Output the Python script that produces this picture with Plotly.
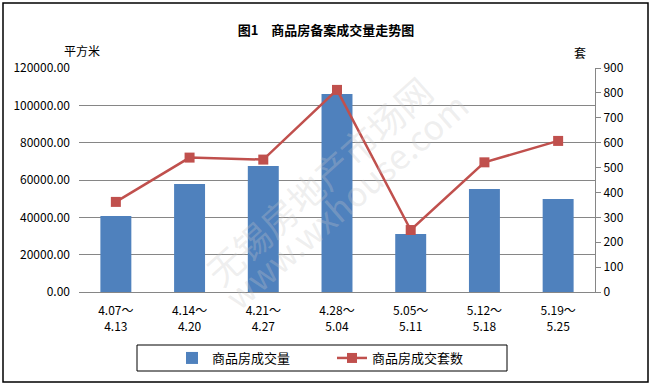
import plotly.graph_objects as go

categories = ["4.07～<br>4.13", "4.14～<br>4.20", "4.21～<br>4.27", "4.28～<br>5.04",
              "5.05～<br>5.11", "5.12～<br>5.18", "5.19～<br>5.25"]
area_values = [40700, 57900, 67500, 106100, 31100, 55200, 49800]
unit_values = [362, 540, 532, 812, 249, 521, 607]

bar_name = "商品房成交量"
line_name = "商品房成交套数"
title_text = "图1　商品房备案成交量走势图"
left_title = "平方米"
right_title = "套"

FONT = "Noto Sans CJK SC, SimSun, sans-serif"
GRID = "#868686"

W, H = 652, 386
L, R, T, B = 79, 57, 68, 94
PW, PH = W - L - R, H - T - B


def px(x):
    return (x - L) / PW


def py(y):
    return (H - B - y) / PH


fig = go.Figure()
fig.add_trace(go.Bar(x=categories, y=area_values, name=bar_name,
                     marker=dict(color="#4F81BD", line=dict(width=0)), yaxis="y"))
fig.add_trace(go.Scatter(x=categories, y=unit_values, name=line_name, mode="lines+markers",
                         line=dict(color="#C0504D", width=2.5),
                         marker=dict(symbol="square", size=10, color="#C0504D"),
                         yaxis="y2"))

fig.update_layout(
    width=W, height=H,
    margin=dict(l=L, r=R, t=T, b=B),
    paper_bgcolor="white", plot_bgcolor="white",
    font=dict(family=FONT, size=12, color="black"),
    bargap=0.58,
    showlegend=True,
    legend=dict(orientation="h", x=px(172), y=py(358), xanchor="left", yanchor="middle",
                font=dict(size=13, family=FONT), bgcolor="rgba(0,0,0,0)",
                entrywidth=115, entrywidthmode="pixels", tracegroupgap=0),
    title=dict(text="<b>" + title_text + "</b>", x=326 / W, xanchor="center",
               y=1 - 30 / H, yanchor="middle", font=dict(size=13, family=FONT)),
    xaxis=dict(showline=True, linecolor=GRID, linewidth=1, ticks="", showgrid=False,
               tickfont=dict(size=12), ticklabelstandoff=8, fixedrange=True),
    yaxis=dict(range=[0, 120000], dtick=20000, tickformat=".2f", showgrid=True,
               gridcolor=GRID, gridwidth=1, zeroline=False, showline=False, ticks="",
               ticklabelstandoff=8, tickfont=dict(size=12)),
    yaxis2=dict(range=[0, 900], dtick=100, overlaying="y", side="right", showgrid=False,
                zeroline=False, showline=True, linecolor=GRID, linewidth=1,
                ticks="outside", ticklen=5, tickcolor=GRID, tickfont=dict(size=12)),
)

# watermark (faint)
fig.add_annotation(text="无锡房地产市场网", x=px(318), y=py(180), xref="paper", yref="paper",
                   showarrow=False, textangle=-42, font=dict(size=36, color="rgba(200,200,200,0.3)"))
fig.add_annotation(text="www.wxhouse.com", x=px(345), y=py(200), xref="paper", yref="paper",
                   showarrow=False, textangle=-41, font=dict(size=34, color="rgba(200,200,200,0.3)"))

# axis titles
fig.add_annotation(text=left_title, x=px(62), y=py(51), xref="paper", yref="paper",
                   yanchor="middle", showarrow=False, font=dict(size=12))
fig.add_annotation(text=right_title, x=px(588), y=py(52), xref="paper", yref="paper",
                   yanchor="middle", showarrow=False, font=dict(size=12))

# chart border
fig.add_shape(type="rect", xref="paper", yref="paper", x0=px(3), x1=px(648), y0=py(382), y1=py(3),
              line=dict(color="black", width=1.5), fillcolor="rgba(0,0,0,0)")
# legend box
fig.add_shape(type="rect", xref="paper", yref="paper", x0=px(137), x1=px(507), y0=py(371), y1=py(345),
              line=dict(color="black", width=1), fillcolor="rgba(0,0,0,0)")

fig.write_html("out.html")
